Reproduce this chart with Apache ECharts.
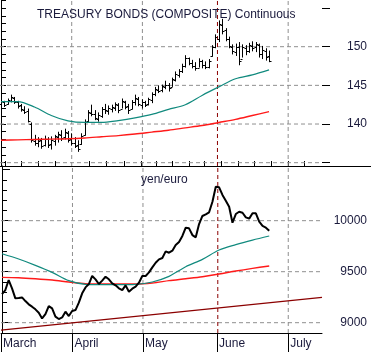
<!DOCTYPE html>
<html>
<head>
<meta charset="utf-8">
<script src="https://cdn.jsdelivr.net/npm/echarts@6/dist/echarts.min.js"></script>
<style>
  html, body { margin: 0; padding: 0; background: #fff; }
  #chart { width: 371px; height: 352px; }
</style>
</head>
<body>
<div id="chart"></div>
<script>
// treasury bonds bars (one per trading day, index 0 = first day of March)
var bondHigh = [143.2,143.0,143.3,143.8,143.5,143.0,142.6,142.3,142.0,140.2,
  138.6,138.3,138.2,138.5,138.3,138.4,138.6,139.0,139.2,139.4,
  139.1,138.8,138.3,137.9,138.8,140.6,141.8,142.5,141.8,141.5,
  142.2,142.6,142.4,142.5,142.8,142.7,143.3,143.0,142.6,143.1,
  143.8,143.5,143.2,143.0,143.4,144.1,144.8,145.0,145.1,145.6,
  145.3,146.0,146.8,147.1,147.8,148.9,148.6,148.3,148.0,148.5,
  148.3,148.1,148.4,150.2,151.6,153.4,153.6,152.4,151.3,150.3,
  150.4,150.6,150.3,150.2,150.5,150.7,150.6,150.4,150.1,149.8,149.5];
var bondLow = [142.3,142.2,142.5,142.8,142.6,142.0,141.6,141.3,140.2,137.6,
  137.2,137.0,136.8,137.1,136.9,136.7,137.2,137.6,137.8,138.0,
  137.6,137.2,136.9,136.4,137.3,138.5,140.2,141.0,140.5,140.3,
  140.8,141.3,141.2,141.5,141.7,141.4,142.0,141.9,141.3,141.9,
  142.4,142.3,142.0,142.2,142.4,142.7,143.6,144.0,144.1,144.5,
  144.2,144.8,145.5,146.0,146.6,147.3,147.6,147.2,146.9,147.3,
  147.2,147.1,147.2,148.7,149.8,150.6,151.6,150.7,149.8,149.0,
  148.8,147.6,148.6,148.9,149.2,149.4,149.3,148.6,148.4,148.2,148.0];
var bondOpen = [142.6,142.9,142.6,143.0,143.4,142.8,142.4,141.8,141.7,140.0,
  137.8,137.5,137.9,137.3,138.0,137.4,137.8,138.3,138.6,138.3,
  138.9,138.0,137.6,137.3,137.4,138.6,140.4,141.4,141.3,140.7,
  141.1,141.9,141.7,142.0,142.1,142.5,142.0,142.8,142.3,141.9,
  142.8,143.3,142.5,142.8,142.6,143.1,143.9,144.4,144.4,144.8,
  145.0,144.8,145.7,146.4,146.9,147.5,148.5,147.9,147.5,147.3,
  148.1,147.6,147.4,148.8,149.9,151.0,152.8,152.1,151.0,150.0,
  149.3,149.9,148.4,149.8,149.5,150.1,149.9,150.2,149.1,149.5,148.8];
var bondClose = [143.0,142.5,143.1,143.5,142.8,142.3,141.9,141.6,140.4,137.9,
  137.6,137.8,137.1,138.1,137.3,137.9,138.4,138.7,138.2,139.0,
  137.9,137.5,137.2,136.8,138.5,140.3,141.5,141.3,140.8,141.2,
  142.0,141.8,142.1,142.2,142.6,141.8,143.0,142.2,141.8,142.9,
  143.4,142.6,142.9,142.5,143.2,143.9,144.5,144.3,144.9,145.1,
  144.6,145.8,146.5,146.8,147.5,148.6,147.9,147.5,147.2,148.2,
  147.6,147.4,148.1,149.9,151.3,152.9,152.0,151.0,150.1,149.4,
  150.0,148.2,149.9,149.5,150.2,149.8,150.3,149.0,149.6,148.7,148.2];

// yen/euro daily
var yenEuro = [9281,9320,9418,9337,9239,9242,9248,9212,9180,9157,
  9131,9098,9042,9085,9163,9140,9059,9036,9052,9108,
  9065,9114,9124,9196,9288,9346,9379,9458,9425,9379,
  9412,9451,9425,9386,9366,9337,9320,9366,9304,9333,
  9353,9392,9458,9458,9493,9542,9588,9621,9634,9699,
  9686,9706,9761,9791,9850,9931,9925,9859,9837,9967,
  10046,10062,10082,10186,10333,10327,10252,10196,10137,9980,
  10065,10088,10078,10033,10020,10072,10072,9990,9948,9931,9902];

// moving averages, every 5th day
var maDays = [0,5,10,15,20,25,30,35,40,45,50,55,60,65,70,75,80];
var bondMaShort = [142.9,142.9,142.2,141.1,140.4,140.2,140.2,140.45,140.8,141.25,141.9,142.5,143.7,144.8,145.85,146.35,147.0];
var bondMaLong = [137.9,137.95,138.0,138.05,138.1,138.2,138.35,138.5,138.7,138.95,139.2,139.5,139.8,140.2,140.6,141.1,141.6];
var yenMaShort = [9676,9624,9562,9493,9412,9376,9373,9373,9376,9399,9454,9549,9621,9712,9765,9810,9850];
var yenMaLong = [9444,9441,9431,9418,9399,9382,9379,9379,9379,9389,9412,9431,9451,9477,9507,9533,9556];

// long trend line on yen/euro
var trendDays = [-0.3, 95.8];
var trendVals = [8928, 9249];

// axis marks
var monthNames = ['March', 'April', 'May', 'June', 'July'];
var monthDays = [-0.3, 21.1, 42.2, 64.4, 85.7];
var weekDays = [0.9, 5.9, 10.9, 15.9, 26.1, 31.3, 36.6, 41.6, 46.1, 51.1, 56.1, 60.4, 65.6, 70.6, 75.6, 80.6, 85.6, 90.6];
var gridDays = [21.1, 42.2, 85.7];
var peakDay = 64.6;
var bondGrid = [135, 140, 145, 150];
var yenGrid = [9000, 9500, 10000];
var bondLabels = [140, 145, 150];
var yenLabels = [9000, 9500, 10000];

var dayMin = -0.3, dayMax = 95.8;
var bondMin = 134.57, bondMax = 156.04;
var yenMin = 8899, yenMax = 10536;
var txt = '#1a1a3c';
var gridGray = '#8f8f8f';

var bondMinor = [];
for (var v = 135; v <= 156; v++) bondMinor.push(v);
var yenMinor = [];
for (var w = 8900; w <= 10500; w += 100) yenMinor.push(w);

function pairs(xs, ys) {
    return xs.map(function (x, i) { return [x, ys[i]]; });
}
function gridSeries(xi, yi, yVals, lo, hi) {
    var out = [];
    yVals.forEach(function (y) {
        out.push({ type: 'line', xAxisIndex: xi, yAxisIndex: yi, z: 1, silent: true,
            showSymbol: false, data: [[dayMin, y], [dayMax, y]],
            lineStyle: { color: gridGray, type: [4, 3], width: 1 } });
    });
    gridDays.forEach(function (x) {
        out.push({ type: 'line', xAxisIndex: xi, yAxisIndex: yi, z: 1, silent: true,
            showSymbol: false, data: [[x, lo], [x, hi]],
            lineStyle: { color: gridGray, type: [4, 3], width: 1 } });
    });
    out.push({ type: 'line', xAxisIndex: xi, yAxisIndex: yi, z: 1, silent: true,
        showSymbol: false, data: [[peakDay, lo], [peakDay, hi]],
        lineStyle: { color: '#8b0000', type: [4, 3], width: 1 } });
    return out;
}
function plainLabel(val) { return String(val); }

var bars = bondHigh.map(function (h, i) {
    return [i, bondOpen[i], bondClose[i], bondLow[i], h];
});

var myChart = echarts.init(document.getElementById('chart'));
var series = [].concat(
    gridSeries(0, 0, bondGrid, bondMin, bondMax),
    gridSeries(1, 2, yenGrid, yenMin, yenMax),
    [
        {
            name: 'bond MA short', type: 'line', xAxisIndex: 0, yAxisIndex: 0,
            data: pairs(maDays, bondMaShort), smooth: 0.3, showSymbol: false,
            lineStyle: { color: '#118a7e', width: 1.2 }
        },
        {
            name: 'bond MA long', type: 'line', xAxisIndex: 0, yAxisIndex: 0,
            data: pairs(maDays, bondMaLong), smooth: 0.3, showSymbol: false,
            lineStyle: { color: '#ff1a1a', width: 1.4 }
        },
        {
            name: 'bonds', type: 'custom', xAxisIndex: 0, yAxisIndex: 0, z: 3,
            data: bars,
            renderItem: function (params, api) {
                var x = api.value(0);
                var o = api.coord([x, api.value(1)]);
                var c = api.coord([x, api.value(2)]);
                var lo = api.coord([x, api.value(3)]);
                var hi = api.coord([x, api.value(4)]);
                var px = Math.round(lo[0]) + 0.5;
                var st = { stroke: '#000', lineWidth: 1 };
                var oy = Math.round(o[1]) + 0.5, cy = Math.round(c[1]) + 0.5;
                return {
                    type: 'group',
                    children: [
                        { type: 'line', shape: { x1: px, y1: hi[1], x2: px, y2: lo[1] }, style: st },
                        { type: 'line', shape: { x1: px - 2, y1: oy, x2: px, y2: oy }, style: st },
                        { type: 'line', shape: { x1: px, y1: cy, x2: px + 2, y2: cy }, style: st }
                    ]
                };
            }
        },
        {
            name: 'yen trend', type: 'line', xAxisIndex: 1, yAxisIndex: 2,
            data: pairs(trendDays, trendVals), showSymbol: false,
            lineStyle: { color: '#8b0000', width: 1.2 }
        },
        {
            name: 'yen MA long', type: 'line', xAxisIndex: 1, yAxisIndex: 2,
            data: pairs(maDays, yenMaLong), smooth: 0.3, showSymbol: false,
            lineStyle: { color: '#ff1a1a', width: 1.4 }
        },
        {
            name: 'yen MA short', type: 'line', xAxisIndex: 1, yAxisIndex: 2,
            data: pairs(maDays, yenMaShort), smooth: 0.3, showSymbol: false,
            lineStyle: { color: '#118a7e', width: 1.2 }
        },
        {
            name: 'yen/euro', type: 'line', xAxisIndex: 1, yAxisIndex: 2, z: 4,
            data: yenEuro.map(function (v, i) { return [i, v]; }), showSymbol: false,
            lineStyle: { color: '#000', width: 2 }
        }
    ]
);

var option = {
    animation: false,
    title: [
        { text: 'TREASURY BONDS (COMPOSITE) Continuous', left: 32, top: 4,
          textStyle: { fontFamily: 'Liberation Sans', fontSize: 12, fontWeight: 'normal', color: txt } },
        { text: 'yen/euro', left: 136, top: 169,
          textStyle: { fontFamily: 'Liberation Sans', fontSize: 12, fontWeight: 'normal', color: txt } }
    ],
    grid: [
        { left: 0, right: 49, top: 0, height: 166 },
        { left: 0, right: 49, top: 166, height: 167 }
    ],
    xAxis: [
        { type: 'value', gridIndex: 0, min: dayMin, max: dayMax, show: false },
        {
            type: 'value', gridIndex: 1, min: dayMin, max: dayMax,
            axisLine: { lineStyle: { color: '#000', width: 1 } },
            axisTick: { customValues: monthDays, length: 19, lineStyle: { color: '#000' } },
            axisLabel: {
                customValues: monthDays, align: 'left', margin: 5, padding: [0, 0, 0, 2],
                fontFamily: 'Liberation Sans', fontSize: 12, color: txt,
                showMinLabel: true, showMaxLabel: true,
                formatter: function (val) {
                    var k = monthDays.indexOf(val);
                    return k >= 0 ? monthNames[k] : '';
                }
            },
            splitLine: { show: false }
        },
        {
            type: 'value', gridIndex: 1, min: dayMin, max: dayMax,
            axisLine: { show: false },
            axisTick: { customValues: weekDays, length: 5, lineStyle: { color: '#000' } },
            axisLabel: { show: false },
            splitLine: { show: false }
        }
    ],
    yAxis: [
        {
            type: 'value', gridIndex: 0, position: 'right', min: bondMin, max: bondMax,
            axisLine: { show: true, lineStyle: { color: '#000' } },
            axisTick: { customValues: bondMinor, length: 5, lineStyle: { color: '#000' } },
            axisLabel: { show: false },
            splitLine: { show: false }
        },
        {
            type: 'value', gridIndex: 0, position: 'right', min: bondMin, max: bondMax,
            axisLine: { show: false },
            axisTick: { customValues: [135, 140, 145, 150, 155], length: 8, lineStyle: { color: '#000' } },
            axisLabel: { customValues: bondLabels, align: 'right', margin: 45, formatter: plainLabel,
                fontFamily: 'Liberation Sans', fontSize: 12, color: txt },
            splitLine: { show: false }
        },
        {
            type: 'value', gridIndex: 1, position: 'right', min: yenMin, max: yenMax,
            axisLine: { show: true, lineStyle: { color: '#000' } },
            axisTick: { customValues: yenMinor, length: 5, lineStyle: { color: '#000' } },
            axisLabel: { show: false },
            splitLine: { show: false }
        },
        {
            type: 'value', gridIndex: 1, position: 'right', min: yenMin, max: yenMax,
            axisLine: { show: false },
            axisTick: { customValues: [9000, 9500, 10000, 10500], length: 8, lineStyle: { color: '#000' } },
            axisLabel: { customValues: yenLabels, align: 'right', margin: 45, formatter: plainLabel,
                fontFamily: 'Liberation Sans', fontSize: 12, color: txt },
            splitLine: { show: false }
        }
    ],
    graphic: [
        { type: 'line', z: 10, shape: { x1: 0, y1: 166.5, x2: 371, y2: 166.5 },
          style: { stroke: '#000', lineWidth: 1 } }
    ],
    series: series
};
myChart.setOption(option);
</script>
</body>
</html>
